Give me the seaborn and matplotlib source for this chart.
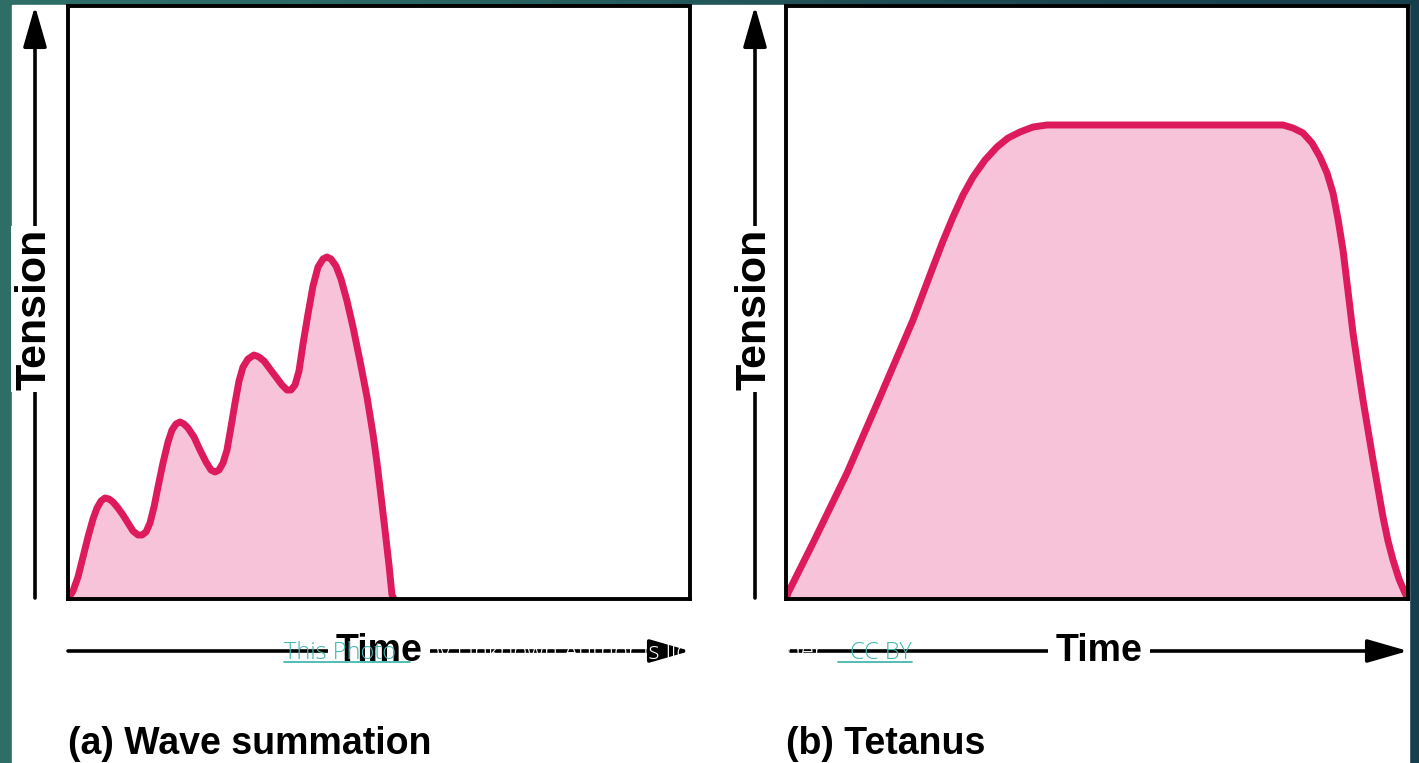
import pandas as pd
import matplotlib.pyplot as plt
import seaborn as sns
from matplotlib.colors import LinearSegmentedColormap
from matplotlib.patches import Rectangle, FancyArrowPatch
from matplotlib.lines import Line2D

W, H = 1419, 763

# (a) wave summation: time vs tension
wave_time = [0, 5, 10, 15, 20, 25, 29, 33, 37, 41, 45, 50, 55, 60, 65, 70, 74, 78, 82, 86,
             90, 95, 100, 104, 108, 112, 116, 120, 126, 132, 138, 143, 147, 151, 155, 159,
             163, 167, 171, 175, 180, 186, 191, 196, 202, 208, 214, 219, 223, 227, 231, 235,
             240, 245, 250, 255, 259, 263, 268, 273, 279, 285, 292, 299, 305, 309, 313, 317,
             321, 324, 326]
wave_tension = [0, 8, 22, 42, 62, 80, 91, 98, 101, 100, 97, 91, 84, 76, 68, 64, 64, 67, 76, 92,
                112, 136, 157, 169, 175, 177, 175, 171, 162, 149, 137, 129, 127, 129, 136, 149,
                172, 196, 218, 232, 240, 244, 242, 238, 230, 222, 214, 209, 209, 214, 228, 255,
                285, 313, 332, 340, 342, 340, 333, 320, 298, 272, 238, 202, 165, 136, 103, 69,
                34, 4, 0]

# (b) tetanus
tet_time = [0, 2, 27, 61, 94, 127, 147, 157, 167, 177, 187, 199, 211, 222, 234, 247, 261,
            497, 507, 517, 526, 534, 541, 547, 552, 557, 562, 567, 572, 577, 587, 597, 602,
            607, 613, 619, 622]
tet_tension = [0, 6, 56, 126, 202, 279, 332, 358, 382, 404, 422, 439, 452, 461, 467, 472, 474,
               474, 471, 466, 456, 442, 426, 406, 380, 349, 308, 266, 232, 199, 139, 82, 58,
               39, 20, 6, 0]

panel_titles = ["(a) Wave summation", "(b) Tetanus"]
x_label = "Time"
y_label = "Tension"
credit = ["This Photo", " by Unknown Author is licensed under ", "CC BY"]

line_col = "#DC1A5C"
fill_col = "#F7C3D9"
link_col = "#45B7AF"

sns.set_style("white")
plt.rcParams["text.color"] = "black"

fig = plt.figure(figsize=(W / 100, H / 100), dpi=100)


def fx(x):
    return x / W


def fy(y):
    # y measured from the top of the picture
    return (H - y) / H


# teal backdrop and the white photo area
bg = fig.add_axes([0, 0, 1, 1], zorder=-10)
teal = LinearSegmentedColormap.from_list("teal", ["#2F7069", "#163E4B"])
bg.imshow([[0, 1], [0, 1]], cmap=teal, aspect="auto", interpolation="bicubic",
          extent=[0, 1, 0, 1])
bg.set_xlim(0, 1)
bg.set_ylim(0, 1)
bg.axis("off")
fig.add_artist(Rectangle((fx(12), 0), fx(1409 - 12), (H - 5) / H,
                         transform=fig.transFigure, color="white", zorder=-5))

df_a = pd.DataFrame({"time": wave_time, "tension": wave_tension})
df_b = pd.DataFrame({"time": tet_time, "tension": tet_tension})

for left, df in [(68, df_a), (786, df_b)]:
    ax = fig.add_axes([fx(left), fy(599), fx(622), 593 / H])
    ax.fill_between(df["time"], df["tension"], color=fill_col, lw=0)
    sns.lineplot(data=df, x="time", y="tension", ax=ax, color=line_col, lw=5,
                 estimator=None, sort=False, solid_capstyle="round", solid_joinstyle="round")
    ax.set_xlim(0, 622)
    ax.set_ylim(0, 593)
    ax.set_xticks([])
    ax.set_yticks([])
    ax.set_xlabel("")
    ax.set_ylabel("")
    ax.set_facecolor("white")
    for s in ax.spines.values():
        s.set_visible(True)
        s.set_color("black")
        s.set_linewidth(2.8)

arrow_style = "-|>,head_length=1.25,head_width=0.36"
bold_font = ["Liberation Sans", "DejaVu Sans"]

# vertical Tension arrows
for x in [35, 755]:
    fig.add_artist(FancyArrowPatch((fx(x), fy(598)), (fx(x), fy(6)),
                                   transform=fig.transFigure, arrowstyle=arrow_style,
                                   mutation_scale=20, lw=2.6, color="black",
                                   shrinkA=0, shrinkB=0))
    fig.text(fx(x - 1), fy(309), y_label, rotation=90, ha="center", va="center",
             fontsize=31, fontweight="bold", family=bold_font, color="black",
             bbox=dict(facecolor="white", edgecolor="none", pad=2))

# horizontal Time arrows
for x0, x1 in [(68, 690), (790, 1408)]:
    fig.add_artist(FancyArrowPatch((fx(x0), fy(651)), (fx(x1), fy(651)),
                                   transform=fig.transFigure, arrowstyle=arrow_style,
                                   mutation_scale=20, lw=2.6, color="black",
                                   shrinkA=0, shrinkB=0))
    fig.text(fx((x0 + x1) / 2), fy(651), x_label, ha="center", va="center",
             fontsize=27, fontweight="bold", family=bold_font, color="black",
             bbox=dict(facecolor="white", edgecolor="none", pad=5))

# panel captions
for x, title in zip([68, 786], panel_titles):
    fig.text(fx(x), fy(754), title, ha="left", va="baseline", fontsize=27,
             fontweight="bold", family=bold_font, color="black")

# photo credit overlay
credit_font = dict(fontsize=17, family=["Open Sans", "DejaVu Sans"], fontweight="light",
                   va="baseline", zorder=20)
fig.text(fx(284), fy(659), credit[0], ha="left", color=link_col, **credit_font)
fig.text(fx(625), fy(659), credit[1], ha="center", color="white", **credit_font)
fig.text(fx(912), fy(659), credit[2], ha="right", color=link_col, **credit_font)
for x0, x1 in [(284, 410), (838, 912)]:
    fig.add_artist(Line2D([fx(x0), fx(x1)], [fy(662), fy(662)], transform=fig.transFigure,
                          color=link_col, lw=1.3, zorder=20))

fig.savefig("out.png", dpi=100, facecolor=fig.get_facecolor())
